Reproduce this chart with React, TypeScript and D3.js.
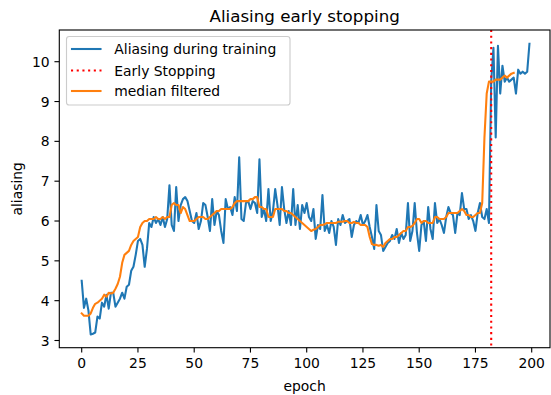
import React from "react";
import * as d3 from "d3";

// Aliasing measured at every training epoch
const aliasing: number[] = [
  4.5, 3.82, 4.05, 3.75, 3.15, 3.17, 3.2, 3.6, 3.55, 3.95,
  3.85, 4.15, 3.8, 4.2, 4.2, 3.85, 3.95, 4.05, 4.2, 4.05,
  4.35, 4.4, 4.75, 4.85, 5.15, 5.5, 5.55, 5.4, 4.85, 5.3,
  5.95, 5.85, 6.1, 5.95, 6.05, 5.9, 6.1, 5.85, 6.05, 6.9,
  5.9, 5.75, 6.85, 6.0, 6.4, 6.55, 6.6, 6.5, 6.25, 6.0,
  5.95, 6.2, 5.8, 6.0, 6.45, 6.4, 6.1, 5.75, 6.55, 5.9,
  6.25, 6.15, 5.75, 5.45, 6.55, 6.3, 6.35, 6.15, 6.6, 6.25,
  7.6, 6.05, 6.0, 6.45, 6.5, 6.3, 6.5, 6.45, 6.2, 7.55,
  6.1, 6.3, 6.0, 6.8, 6.0, 6.25, 6.8, 6.4, 5.9, 6.85,
  6.3, 5.95, 6.25, 5.9, 6.8, 5.9, 6.4, 5.8, 6.4, 6.2,
  6.45, 6.1, 6.0, 6.3, 5.55, 5.9, 5.8, 6.65, 5.75, 5.9,
  5.7, 6.0, 5.85, 5.4, 6.05, 5.9, 6.15, 5.95, 6.0, 6.05,
  5.6, 5.9, 6.0, 5.95, 6.15, 5.9, 6.0, 6.15, 5.85, 5.6,
  5.3, 6.4, 5.75, 5.65, 5.25, 5.35, 5.45, 5.5, 5.65, 5.55,
  5.8, 5.45, 5.7, 5.55, 5.65, 6.45, 5.5, 5.75, 6.45, 5.7,
  5.25, 5.9, 6.0, 5.5, 6.35, 5.8, 5.55, 6.45, 5.95, 6.05,
  5.9, 5.7, 6.1, 6.35, 6.2, 6.15, 5.7, 6.2, 6.15, 6.7,
  6.3, 6.3, 6.05, 6.15, 6.0, 5.75, 6.2, 6.45, 6.1, 6.05,
  6.3, 5.95, 9.5, 10.35, 8.1, 10.4, 9.2, 9.9, 9.5, 9.6,
  9.5, 9.55, 9.6, 9.2, 9.8, 9.7, 9.75, 9.7, 9.75, 10.45,
];

// Running median of the aliasing curve
const medianFiltered: number[] = [
  3.68, 3.62, 3.62, 3.62, 3.68, 3.82, 3.92, 3.95, 4.0, 4.05,
  4.15, 4.1, 4.2, 4.18, 4.2, 4.3, 4.42, 4.6, 4.95, 5.15,
  5.2, 5.25, 5.4, 5.5, 5.55, 5.6, 5.85, 5.95, 6.0, 6.0,
  6.05, 6.05, 6.05, 6.1, 6.05, 6.05, 6.1, 6.05, 6.1, 6.1,
  6.4, 6.45, 6.4, 6.4, 6.2, 6.35, 6.3, 6.15, 6.0, 6.0,
  6.0, 6.05, 6.1, 6.1, 6.1, 6.05, 6.05, 6.1, 6.15, 6.2,
  6.25, 6.25, 6.3, 6.3, 6.3, 6.3, 6.3, 6.35, 6.45, 6.5,
  6.5, 6.5, 6.5, 6.5, 6.5, 6.55, 6.55, 6.6, 6.6, 6.35,
  6.35, 6.3, 6.3, 6.1, 6.1, 6.1, 6.3, 6.3, 6.3, 6.3,
  6.25, 6.25, 6.2, 6.2, 6.15, 6.1, 6.05, 6.0, 5.95, 5.9,
  5.85, 5.8, 5.75, 5.78, 5.8, 5.85, 5.9, 5.9, 5.92, 5.95,
  5.95, 5.95, 5.95, 5.95, 5.98, 5.98, 5.98, 6.0, 6.0, 5.95,
  5.95, 5.98, 5.95, 5.95, 5.9, 5.9, 5.9, 5.85, 5.6, 5.42,
  5.4, 5.4, 5.38, 5.4, 5.35, 5.45, 5.5, 5.55, 5.55, 5.6,
  5.6, 5.65, 5.7, 5.75, 5.75, 5.85, 5.85, 5.88, 5.95, 6.05,
  6.05, 5.95, 6.0, 6.0, 5.95, 5.95, 5.95, 6.1, 6.1, 6.05,
  6.05, 6.05, 6.1, 6.2, 6.2, 6.2, 6.2, 6.2, 6.25, 6.3,
  6.25, 6.15, 6.15, 6.1, 6.1, 6.15, 6.2, 6.2, 6.45, 8.1,
  9.2, 9.5, 9.5, 9.5, 9.55, 9.55, 9.55, 9.6, 9.65, 9.6,
  9.65, 9.7, 9.72,
];

const earlyStopEpoch = 182;
const xTicks: number[] = [0, 25, 50, 75, 100, 125, 150, 175, 200];
const yTicks: number[] = [3, 4, 5, 6, 7, 8, 9, 10];
const legendLabels: string[] = ["Aliasing during training", "Early Stopping", "median filtered"];

const W = 551;
const H = 395;
const plot = { left: 59.3, right: 550, top: 30, bottom: 347.7 };
const FONT = "'DejaVu Sans', sans-serif";
const TEXT = "#000";
const BLUE = "#1f77b4";
const ORANGE = "#ff7f0e";
const RED = "#ff0000";

export default function App() {
  const x = d3.scaleLinear().domain([0, 200]).range([81.7, 531.7]);
  const y = d3.scaleLinear().domain([3, 10]).range([340.5, 61.7]);

  const line = d3
    .line<number>()
    .x((_, i) => x(i))
    .y((d) => y(d));

  const tickLen = 4.86;
  const legendX = 66.5;
  const legendY = 36.5;
  const rowY = [49, 70.5, 91];

  return (
    <div style={{ position: "fixed", left: 0, top: 0, width: W, height: H, background: "#fff" }}>
      <svg width={W} height={H} style={{ display: "block" }} fontFamily={FONT}>
        <rect width={W} height={H} fill="#fff" />

        {/* data lines */}
        <path d={line(aliasing) ?? ""} fill="none" stroke={BLUE} strokeWidth={2.08}
          strokeLinejoin="round" strokeLinecap="square" />
        <line x1={x(earlyStopEpoch)} x2={x(earlyStopEpoch)} y1={plot.top} y2={plot.bottom}
          stroke={RED} strokeWidth={2.08} strokeDasharray="2.1 3.6" />
        <path d={line(medianFiltered) ?? ""} fill="none" stroke={ORANGE} strokeWidth={2.08}
          strokeLinejoin="round" strokeLinecap="square" />

        {/* frame */}
        <rect x={plot.left} y={plot.top} width={plot.right - plot.left} height={plot.bottom - plot.top}
          fill="none" stroke="#000" strokeWidth={1.11} />

        {/* x axis */}
        {xTicks.map((t) => (
          <g key={`x${t}`}>
            <line x1={x(t)} x2={x(t)} y1={plot.bottom} y2={plot.bottom + tickLen} stroke="#000" strokeWidth={1.11} />
            <text x={x(t)} y={plot.bottom + 20.6} textAnchor="middle" fontSize={13.9} fill={TEXT}>{t}</text>
          </g>
        ))}
        <text x={(plot.left + plot.right) / 2} y={391} textAnchor="middle" fontSize={13.9} fill={TEXT}>epoch</text>

        {/* y axis */}
        {yTicks.map((t) => (
          <g key={`y${t}`}>
            <line x1={plot.left - tickLen} x2={plot.left} y1={y(t)} y2={y(t)} stroke="#000" strokeWidth={1.11} />
            <text x={plot.left - 2 * tickLen} y={y(t) + 5} textAnchor="end" fontSize={13.9} fill={TEXT}>{t}</text>
          </g>
        ))}
        <text transform={`translate(21.5, ${(plot.top + plot.bottom) / 2}) rotate(-90)`} textAnchor="middle"
          fontSize={13.9} fill={TEXT}>aliasing</text>

        {/* title */}
        <text x={(plot.left + plot.right) / 2} y={21.7} textAnchor="middle" fontSize={16.7} fill={TEXT}>
          Aliasing early stopping
        </text>

        {/* legend */}
        <rect x={legendX} y={legendY} width={223.5} height={68.5} rx={2.8} fill="#fff" fillOpacity={0.8}
          stroke="#cccccc" strokeWidth={1.11} />
        <line x1={72} x2={100.5} y1={rowY[0]} y2={rowY[0]} stroke={BLUE} strokeWidth={2.08} strokeLinecap="square" />
        <line x1={71} x2={101.5} y1={rowY[1]} y2={rowY[1]} stroke={RED} strokeWidth={2.08} strokeDasharray="2.1 3.6" />
        <line x1={72} x2={100.5} y1={rowY[2]} y2={rowY[2]} stroke={ORANGE} strokeWidth={2.08} strokeLinecap="square" />
        {legendLabels.map((l, i) => (
          <text key={l} x={114.3} y={rowY[i] + 5} fontSize={13.9} fill={TEXT}>{l}</text>
        ))}
      </svg>
    </div>
  );
}
